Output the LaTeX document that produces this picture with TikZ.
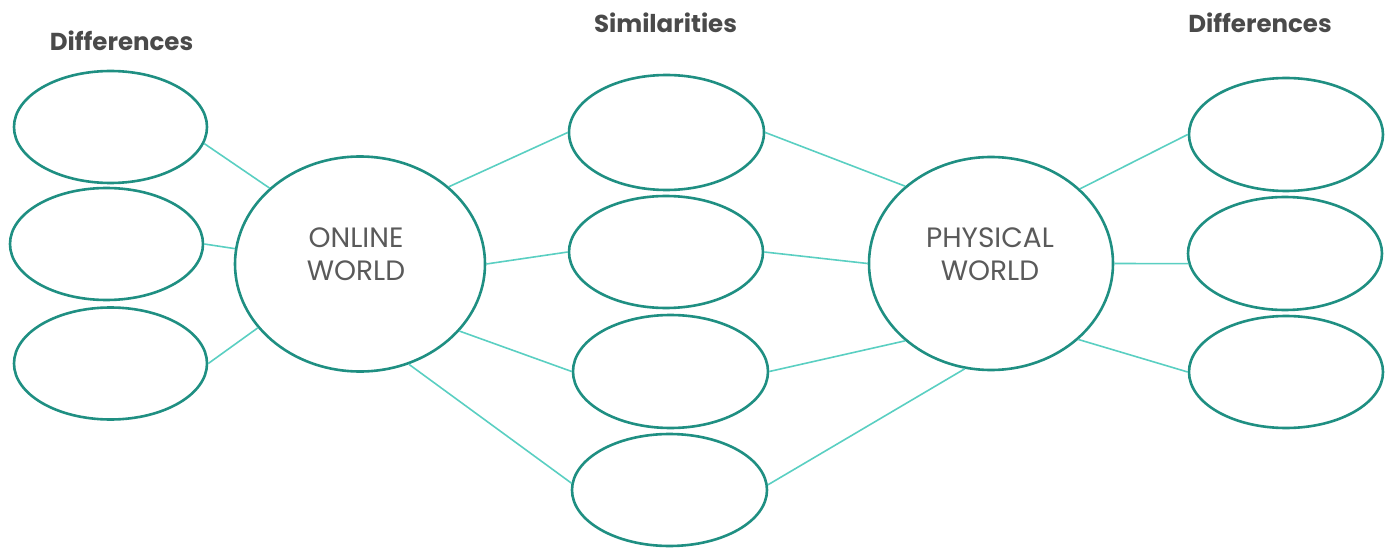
\documentclass[tikz,border=0pt]{standalone}
\usepackage{fontspec}
\setmainfont{Poppins}
\usetikzlibrary{shapes.geometric}
\definecolor{rim}{HTML}{1F8F82}
\definecolor{link}{HTML}{5ACFC2}
\definecolor{ink}{HTML}{4A4A4A}
\definecolor{inkl}{HTML}{5A5A5A}
\tikzset{
  small/.style={ellipse, draw=rim, line width=2.6pt, minimum width=193pt, minimum height=112pt, inner sep=0pt},
  hub/.style={ellipse, draw=rim, line width=2.6pt, inner sep=0pt},
  hubtext/.style={align=center, text=inkl, inner sep=0pt, font=\fontsize{28}{33}\selectfont},
  title/.style={text=ink, font=\fontsize{24.5}{28}\selectfont\bfseries},
  conn/.style={draw=link, line width=1.6pt},
}
\begin{document}
\begin{tikzpicture}[x=1pt,y=-1pt]
\useasboundingbox (0,0) rectangle (1392,548);
\node[title] (t1) at (121.5,41) {Differences};
\node[title] (t2) at (665.5,23) {Similarities};
\node[title] (t3) at (1260,23) {Differences};

\node[small] (e1) at (110.5,127) {};
\node[small] (e2) at (106.5,244) {};
\node[small] (e3) at (110.5,363.5) {};
\node[hub, minimum width=250pt, minimum height=215pt] (on) at (360,264) {};
\node[hubtext] (ont) at (356,254) {ONLINE\\WORLD};
\node[small, minimum width=195pt, minimum height=115pt] (m1) at (666.5,132.5) {};
\node[small, minimum width=194pt] (m2) at (666,252) {};
\node[small, minimum width=195pt, minimum height=113pt] (m3) at (670.5,371.5) {};
\node[small, minimum width=195pt] (m4) at (669.5,490) {};
\node[hub, minimum width=244pt, minimum height=213pt] (ph) at (991,263.5) {};
\node[hubtext] (pht) at (990,254) {PHYSICAL\\WORLD};
\node[small, minimum width=194pt, minimum height=113pt] (r1) at (1286,134.5) {};
\node[small, minimum width=194pt, minimum height=113pt] (r2) at (1285,253.5) {};
\node[small, minimum width=194pt, minimum height=112pt] (r3) at (1286,372) {};

\path[conn] (e1.-10) -- (on.140);
\path[conn] (e2.0) -- (on.173);
\path[conn] (e3.0) -- (on.212);
\path[conn] (on.41) -- (m1.180);
\path[conn] (on.0) -- (m2.180);
\path[conn] (on.-34) -- (m3.180);
\path[conn] (on.-64) -- (m4.176);
\path[conn] (m1.0) -- (ph.138);
\path[conn] (m2.0) -- (ph.180);
\path[conn] (m3.0) -- (ph.222);
\path[conn] (m4.3) -- (ph.256);
\path[conn] (ph.40) -- (r1.180);
\path[conn] (ph.0) -- (r2.186);
\path[conn] (ph.-41) -- (r3.180);
\end{tikzpicture}
\end{document}
